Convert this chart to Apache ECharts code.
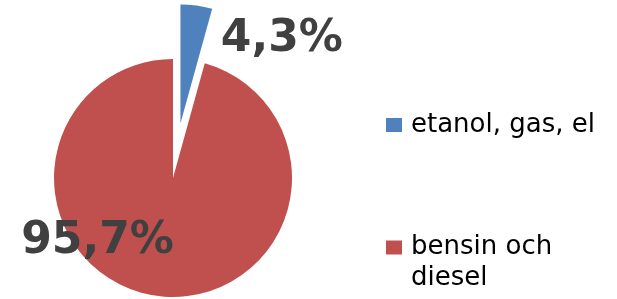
<!DOCTYPE html>
<html>
<head>
<meta charset="utf-8">
<script src="https://cdn.jsdelivr.net/npm/echarts@6/dist/echarts.min.js"></script>
<style>
  html, body { margin: 0; padding: 0; background: #fff; }
  #chart { width: 617px; height: 299px; }
</style>
</head>
<body>
<div id="chart"></div>
<script>
var names = ['etanol, gas, el', 'bensin och diesel'];
var shares = [4.3, 95.7];
var colors = ['#4F81BD', '#C0504D'];

var myChart = echarts.init(document.getElementById('chart'));

var data = [];
for (var i = 0; i < names.length; i++) {
  data.push({ name: names[i], value: shares[i], selected: i === 0, itemStyle: { color: colors[i] } });
}

var option = {
  animation: false,
  legend: [
    {
      data: [names[0]],
      left: 381, top: 107,
      itemWidth: 16, itemHeight: 14,
      icon: 'rect',
      selectedMode: false,
      textStyle: { fontFamily: 'DejaVu Sans', fontSize: 26, color: '#000', padding: [3, 0, 0, 4] }
    },
    {
      data: [names[1]],
      left: 381, top: 193,
      itemWidth: 16, itemHeight: 14,
      icon: 'rect',
      selectedMode: false,
      // blank first line keeps the marker level with "bensin och"
      formatter: function (name) { return '\n' + name.replace(' och ', ' och\n'); },
      textStyle: { fontFamily: 'DejaVu Sans', fontSize: 26, lineHeight: 31, color: '#000', padding: [6, 0, 0, 4] }
    }
  ],
  series: [
    {
      type: 'pie',
      center: [173, 178],
      radius: 119,
      startAngle: 90,
      clockwise: true,
      selectedMode: 'single',
      selectedOffset: 55,
      avoidLabelOverlap: false,
      emphasis: { disabled: true },
      label: {
        show: true,
        position: 'inside',
        fontFamily: 'DejaVu Sans',
        fontWeight: 'bold',
        fontSize: 44,
        color: '#404040',
        formatter: function (p) { return p.value.toFixed(1).replace('.', ',') + '%'; }
      },
      labelLayout: function (p) {
        return p.dataIndex === 0 ? { dx: 93, dy: -22 } : { dx: -67, dy: 2 };
      },
      data: data
    }
  ]
};
myChart.setOption(option);
</script>
</body>
</html>
